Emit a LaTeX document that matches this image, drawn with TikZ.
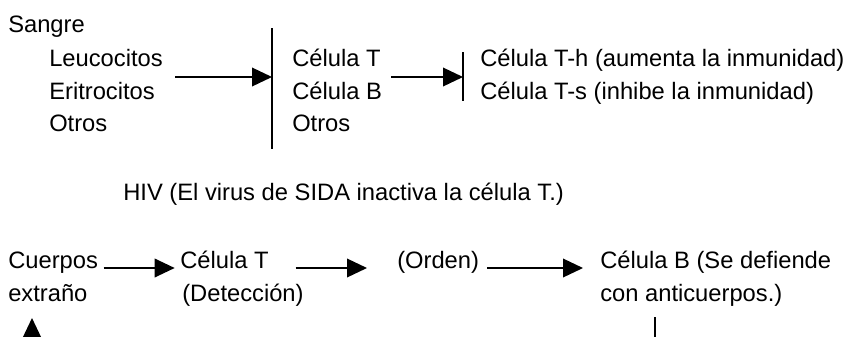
\documentclass[tikz,border=0pt]{standalone}
\usepackage{fontspec}
\setmainfont{Liberation Sans}
\usetikzlibrary{arrows.meta}
\def\pxl{0.75pt}
\newcommand{\rotulo}[4]{
    \node[rotulo] (#1) at (#2,#3) {#4};
}
\newcommand{\barra}[4]{
    \coordinate (#1arr) at (#2,#3);
    \coordinate (#1ab) at (#2,#4);
    \draw[linea] (#1arr) -- (#1ab);
}

\begin{document}
\begin{tikzpicture}[x=\pxl,y=-\pxl,
    rotulo/.style={anchor=base west,inner sep=0pt,font=\fontsize{17.8}{20}\selectfont},
    linea/.style={line width=1.1pt},
    flecha/.style={linea,-{Triangle[length=15pt,width=14pt]}}]
    \clip (0,0) rectangle (852,336);
    % sangre
    \rotulo{sangre}{8}{32}{Sangre}
    \rotulo{leuco}{49}{66}{Leucocitos}
    \rotulo{eritro}{49}{99}{Eritrocitos}
    \rotulo{otrosA}{49}{131}{Otros}
    \barra{barraA}{272}{28}{149}
    \coordinate (flechaAini) at (175,77);
    \draw[flecha] (flechaAini) -- (flechaAini -| barraAarr);
    % leucocitos
    \rotulo{celT}{292}{66}{Célula T}
    \rotulo{celB}{292}{99}{Célula B}
    \rotulo{otrosB}{292}{131}{Otros}
    \barra{barraB}{463}{52}{101}
    \coordinate (flechaBini) at (391,77);
    \draw[flecha] (flechaBini) -- (flechaBini -| barraBarr);
    % celula T
    \rotulo{celTh}{480}{66}{Célula T-h (aumenta la inmunidad)}
    \rotulo{celTs}{480}{99}{Célula T-s (inhibe la inmunidad)}
    \rotulo{hiv}{123}{200}{HIV (El virus de SIDA inactiva la célula T.)}
    % defensa
    \rotulo{cuerpos}{8}{268}{Cuerpos}
    \rotulo{extrano}{8}{301}{extraño}
    \rotulo{detT}{180}{268}{Célula T}
    \rotulo{deteccion}{182}{301}{(Detección)}
    \rotulo{orden}{397}{268}{(Orden)}
    \rotulo{defB}{600}{268}{Célula B (Se defiende}
    \rotulo{anti}{600}{301}{con anticuerpos.)}
    \draw[flecha] ([xshift=4pt]cuerpos.base east) -- ([xshift=-4pt]detT.base west);
    \draw[flecha] ([xshift=20pt]detT.base east) -- ([xshift=-22.5pt]orden.base west);
    \draw[flecha] ([xshift=6pt]orden.base east) -- ([xshift=-12.75pt]defB.base west);
    % cortados abajo
    \coordinate (subeIni) at (32,360);
    \coordinate (subeFin) at (32,318);
    \draw[flecha] (subeIni) -- (subeFin);
    \barra{bajaB}{655}{317}{360}
\end{tikzpicture}
\end{document}
